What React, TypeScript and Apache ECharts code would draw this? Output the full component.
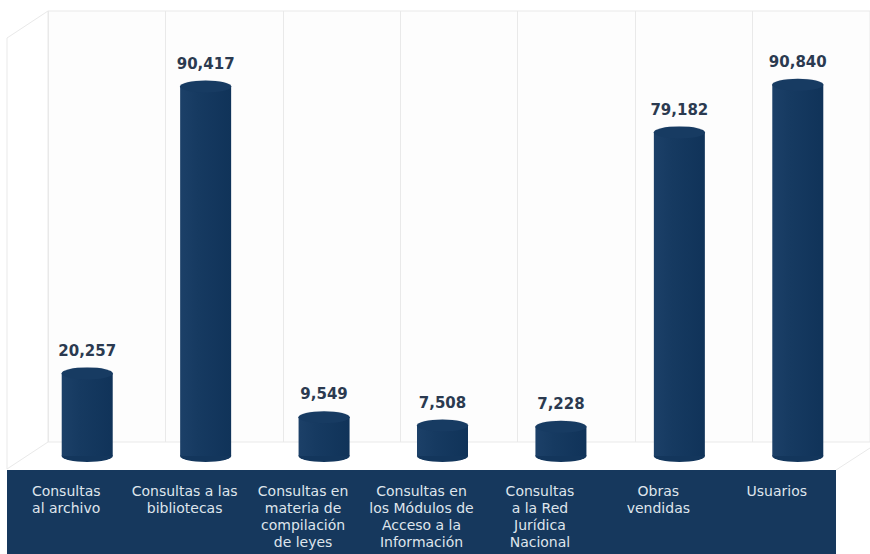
import React, { useEffect, useRef } from "react";
import * as echarts from "echarts";

const categories = [
  "Consultas\nal archivo",
  "Consultas a las\nbibliotecas",
  "Consultas en\nmateria de\ncompilación\nde leyes",
  "Consultas en\nlos Módulos de\nAcceso a la\nInformación",
  "Consultas\na la Red\nJurídica\nNacional",
  "Obras\nvendidas",
  "Usuarios",
];
const values = [20257, 90417, 9549, 7508, 7228, 79182, 90840];

const ELLIPSE = "path://M0,50 A50,50 0 1,1 100,50 A50,50 0 1,1 0,50 Z";
const FONT = "DejaVu Sans, Verdana, sans-serif";
const GRID_LINE = "#e9e9e9";

export default function App() {
  const ref = useRef<HTMLDivElement>(null);
  useEffect(() => {
    if (!ref.current) return;
    const chart = echarts.init(ref.current, null, { renderer: "svg" });
    const bodyColor = {
      type: "linear",
      x: 0,
      y: 0,
      x2: 1,
      y2: 0,
      colorStops: [
        { offset: 0, color: "#1c4068" },
        { offset: 0.35, color: "#163a61" },
        { offset: 1, color: "#103359" },
      ],
    };
    chart.setOption({
      animation: false,
      backgroundColor: "#ffffff",
      textStyle: { fontFamily: FONT },
      grid: [
        { left: 28, width: 829, top: 47, bottom: 98 },
        {
          left: 7,
          width: 829,
          top: 470,
          height: 120,
          show: true,
          backgroundColor: "#16385d",
          borderWidth: 0,
        },
        {
          left: 48,
          width: 829,
          top: 11,
          bottom: 112,
          show: true,
          backgroundColor: "#fdfdfd",
          borderColor: GRID_LINE,
          borderWidth: 1,
        },
      ],
      xAxis: [
        { type: "category", gridIndex: 0, data: categories, show: false },
        {
          type: "category",
          gridIndex: 1,
          data: categories,
          position: "top",
          axisLine: { show: false },
          axisTick: { show: false },
          splitLine: { show: false },
          axisLabel: {
            inside: true,
            interval: 0,
            margin: 12,
            color: "#dfe5ec",
            fontSize: 14,
            lineHeight: 17,
            fontFamily: FONT,
          },
        },
        {
          type: "category",
          gridIndex: 2,
          data: categories,
          axisLine: { show: false },
          axisTick: { show: false, interval: 0 },
          axisLabel: { show: false, interval: 0 },
          splitLine: { show: true, interval: 0, lineStyle: { color: GRID_LINE, width: 1 } },
        },
      ],
      yAxis: [
        { type: "value", gridIndex: 0, min: 0, max: 100000, show: false },
        { type: "value", gridIndex: 1, show: false },
        { type: "value", gridIndex: 2, show: false, splitLine: { show: false } },
      ],
      graphic: [
        {
          type: "polyline",
          silent: true,
          shape: { points: [[48, 11], [7, 38], [7, 469], [48, 442]] },
          style: { stroke: GRID_LINE, fill: "none", lineWidth: 1 },
          z: 1,
        },
        {
          type: "line",
          silent: true,
          shape: { x1: 836, y1: 470, x2: 870, y2: 448 },
          style: { stroke: GRID_LINE, lineWidth: 1 },
          z: 1,
        },
      ],
      series: [
        {
          type: "bar",
          xAxisIndex: 0,
          yAxisIndex: 0,
          data: values,
          barWidth: 51,
          z: 3,
          itemStyle: { color: bodyColor },
          label: {
            show: true,
            position: "top",
            distance: 15,
            color: "#2b3a50",
            fontSize: 15,
            fontWeight: "bold",
            fontFamily: FONT,
            formatter: (p: any) => Number(p.value).toLocaleString("en-US"),
          },
        },
        {
          type: "pictorialBar",
          xAxisIndex: 0,
          yAxisIndex: 0,
          data: values,
          symbol: ELLIPSE,
          symbolSize: [51, 12],
          symbolPosition: "start",
          symbolOffset: [0, "50%"],
          z: 2,
          itemStyle: { color: "#13365c" },
        },
        {
          type: "pictorialBar",
          xAxisIndex: 0,
          yAxisIndex: 0,
          data: values,
          symbol: ELLIPSE,
          symbolSize: [51, 12],
          symbolPosition: "end",
          symbolOffset: [0, "-50%"],
          z: 4,
          itemStyle: { color: "#173b62", borderColor: "#23476e", borderWidth: 1 },
        },
      ],
    });
    return () => chart.dispose();
  }, []);
  return (
    <div
      ref={ref}
      style={{ position: "absolute", left: 0, top: 0, width: 870, height: 554 }}
    />
  );
}
